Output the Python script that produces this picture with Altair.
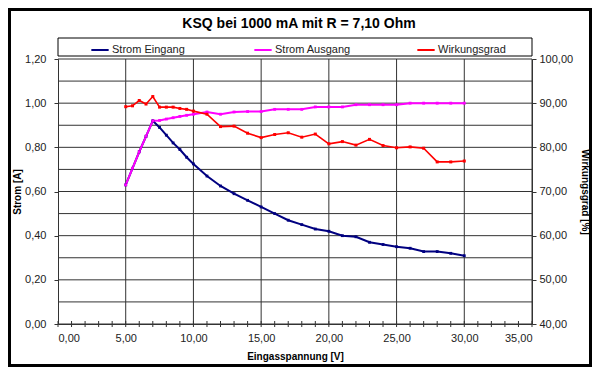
import altair as alt
import pandas as pd

# ---- data ----
spannung = [5, 5.5, 6, 6.5, 7, 7.5, 8, 8.5, 9, 9.5, 10,
            11, 12, 13, 14, 15, 16, 17, 18, 19, 20,
            21, 22, 23, 24, 25, 26, 27, 28, 29, 30]
strom_eingang = [0.63, 0.705, 0.78, 0.85, 0.92, 0.89, 0.855, 0.82, 0.79, 0.755, 0.725,
                 0.67, 0.625, 0.59, 0.56, 0.53, 0.50, 0.47, 0.45, 0.43, 0.42,
                 0.40, 0.395, 0.37, 0.36, 0.35, 0.343, 0.328, 0.328, 0.32, 0.309]
strom_ausgang = [0.63, 0.705, 0.78, 0.85, 0.92, 0.922, 0.928, 0.934, 0.94, 0.945, 0.95,
                 0.96, 0.95, 0.96, 0.962, 0.962, 0.972, 0.972, 0.972, 0.983, 0.983,
                 0.983, 0.993, 0.993, 0.993, 0.993, 1.0, 1.0, 1.0, 1.0, 1.0]
wirkungsgrad = [89.2, 89.4, 90.6, 89.8, 91.5, 89.1, 89.1, 89.1, 88.8, 88.6, 88.2,
                87.5, 84.7, 84.8, 83.2, 82.2, 82.9, 83.3, 82.3, 83.0, 80.8,
                81.3, 80.5, 81.8, 80.4, 79.9, 80.1, 79.8, 76.7, 76.7, 76.9]

series = ["Strom Eingang", "Strom Ausgang", "Wirkungsgrad"]
colors = ["#000080", "#FF00FF", "#FF0000"]

x_ticks = [0, 5, 10, 15, 20, 25, 30, 35]
x_grid = [5, 10, 15, 20, 25, 30, 35]
x_minor = list(range(0, 36))
y_ticks = [0.0, 0.2, 0.4, 0.6, 0.8, 1.0, 1.2]
y_grid = [0.0, 0.1, 0.2, 0.3, 0.4, 0.5, 0.6, 0.7, 0.8, 0.9, 1.0, 1.1, 1.2]
y2_ticks = [40, 50, 60, 70, 80, 90, 100]

FONT = "Arial"
W, H = 474, 265

n = len(spannung)
strom_df = pd.DataFrame({
    "U": spannung + spannung,
    "I": strom_eingang + strom_ausgang,
    "Reihe": [series[0]] * n + [series[1]] * n,
})
wg_df = pd.DataFrame({"U": spannung, "W": wirkungsgrad, "Reihe": [series[2]] * n})

comma = "replace(format(datum.value, '.2f'), '.', ',')"

xscale = alt.Scale(domain=[0, 35], nice=False, zero=False)
yscale = alt.Scale(domain=[0, 1.2], nice=False)
y2scale = alt.Scale(domain=[40, 100], nice=False, zero=False)

color = alt.Color(
    "Reihe:N",
    scale=alt.Scale(domain=series, range=colors),
    legend=alt.Legend(
        title=None, orient="none", legendX=32, legendY=-19,
        direction="horizontal", columns=3, gridAlign="all", columnPadding=62,
        symbolType="stroke", symbolSize=300, symbolStrokeWidth=2,
        labelFont=FONT, labelFontSize=11, labelColor="#222", labelOffset=2,
    ),
)


def x_axis():
    return alt.Axis(
        values=x_ticks, labelExpr=comma, title="Eingasspannung [V]", grid=False,
        ticks=False, domain=True, domainColor="#333", zindex=1,
        labelFont=FONT, labelFontSize=11, labelColor="#222", labelPadding=8,
        titleFont=FONT, titleFontSize=10, titleFontWeight="bold", titleColor="#000",
        titlePadding=8,
    )


def xenc():
    return alt.X("U:Q", scale=xscale, axis=x_axis())


bg = alt.Chart(pd.DataFrame({"k": [0]})).mark_rect(color="white").encode(
    x=alt.value(-47), x2=alt.value(531), y=alt.value(-48), y2=alt.value(305)
)

legend_box = alt.Chart(pd.DataFrame({"k": [0]})).mark_rect(
    fill="white", stroke="black", strokeWidth=1
).encode(x=alt.value(0), x2=alt.value(W), y=alt.value(-21), y2=alt.value(-3))

vgrid = alt.Chart(pd.DataFrame({"U": x_grid})).mark_rule(color="#333", strokeWidth=1).encode(
    x=xenc()
)
hgrid = alt.Chart(pd.DataFrame({"I": y_grid})).mark_rule(color="#333", strokeWidth=1).encode(
    y=alt.Y("I:Q", scale=yscale, axis=None)
)
minor = alt.Chart(pd.DataFrame({"U": x_minor})).mark_rule(color="#333", strokeWidth=1).encode(
    x=xenc(), y=alt.value(H - 3), y2=alt.value(H + 3)
)

strom_lines = alt.Chart(strom_df).mark_line(
    strokeWidth=2, point=alt.OverlayMarkDef(shape="square", size=8, filled=True)
).encode(
    x=xenc(),
    y=alt.Y("I:Q", scale=yscale, axis=alt.Axis(
        orient="left", values=y_ticks, labelExpr=comma, title="Strom [A]", grid=False,
        ticks=True, tickSize=4, tickColor="#333", domain=True, domainColor="#333", zindex=1,
        labelFont=FONT, labelFontSize=11, labelColor="#222", labelPadding=8,
        titleFont=FONT, titleFontSize=10, titleFontWeight="bold", titleColor="#000",
        titlePadding=2,
    )),
    color=color,
    detail="Reihe:N",
)

wg_line = alt.Chart(wg_df).mark_line(
    strokeWidth=1.6, point=alt.OverlayMarkDef(shape="square", size=9, filled=True)
).encode(
    x=xenc(),
    y=alt.Y("W:Q", scale=y2scale, axis=alt.Axis(
        orient="right", values=y2_ticks, labelExpr=comma, title="Wirkungsgrad [%]", grid=False,
        ticks=True, tickSize=4, tickColor="#333", domain=True, domainColor="#333", zindex=1,
        labelFont=FONT, labelFontSize=11, labelColor="#222", labelPadding=3,
        titleFont=FONT, titleFontSize=10, titleFontWeight="bold", titleColor="#000",
        titlePadding=7,
    )),
    color=color,
)

chart = alt.layer(bg, vgrid, hgrid, minor, legend_box, strom_lines, wg_line).resolve_scale(
    y="independent"
).properties(
    width=W, height=H,
    title=alt.TitleParams(
        "KSQ bei 1000 mA mit R = 7,10 Ohm", font=FONT, fontSize=14, fontWeight="bold",
        color="#000", frame="group", offset=0, dy=20, anchor="middle", dx=4,
    ),
    autosize=alt.AutoSizeParams(type="none"),
    padding={"left": 50, "top": 51, "right": 60, "bottom": 43},
    background="black",
).configure_view(stroke=None)

chart.save("out.html", embed_options={"renderer": "svg", "actions": False})
